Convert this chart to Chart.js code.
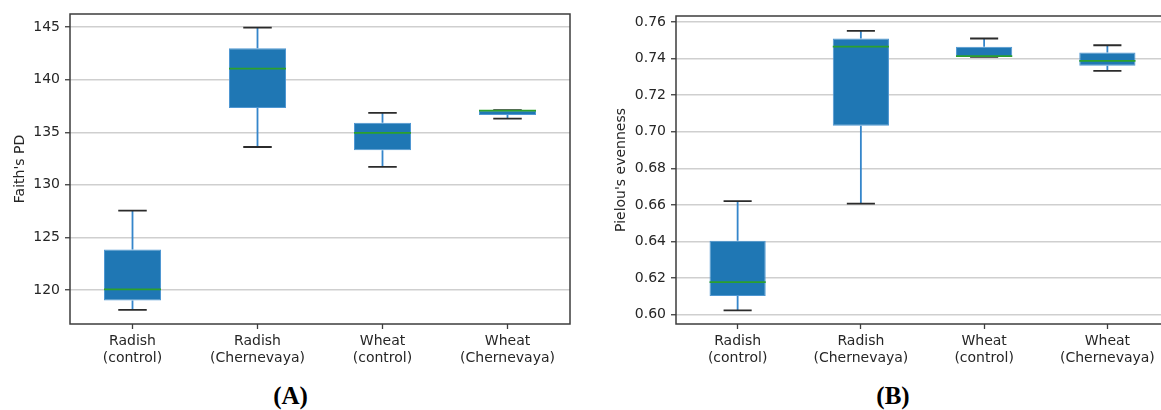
<!DOCTYPE html>
<html>
<head>
<meta charset="utf-8">
<script src="https://cdn.jsdelivr.net/npm/chart.js@4.4.1/dist/chart.umd.min.js"></script>
<style>
  html, body { margin: 0; padding: 0; background: #ffffff; overflow: hidden; }
  #wrap { position: relative; width: 1161px; height: 410px; overflow: hidden; background: #fff; }
  canvas { position: absolute; top: 0; }
  #cA { left: 0; }
  #cB { left: 580px; }
  .panel { position: absolute; font-family: "Liberation Serif", "Times New Roman", serif; font-weight: bold;
           font-size: 25px; color: #000; transform: translate(-50%, -50%); white-space: nowrap; }
</style>
</head>
<body>
<div id="wrap">
  <canvas id="cA" width="580" height="380"></canvas>
  <canvas id="cB" width="600" height="380"></canvas>
  <div class="panel" style="left:290.5px; top:396px;">(<span>A</span>)</div>
  <div class="panel" style="left:893px; top:396px;">(<span>B</span>)</div>
</div>
<script>
// Groups on the x axis (two-line labels)
const categories = [
  ['Radish', '(control)'],
  ['Radish', '(Chernevaya)'],
  ['Wheat', '(control)'],
  ['Wheat', '(Chernevaya)']
];

// Faith's PD: whisker ends, quartiles and medians per group
const faithLow  = [118.1, 133.6, 131.7, 136.3];
const faithQ1   = [119.0, 137.3, 133.3, 136.65];
const faithMed  = [120.05, 141.05, 134.95, 137.05];
const faithQ3   = [123.85, 143.0, 135.9, 137.1];
const faithHigh = [127.55, 144.95, 136.85, 137.1];

// Pielou's evenness: whisker ends, quartiles and medians per group
const pielouLow  = [0.6023, 0.6607, 0.7409, 0.7333];
const pielouQ1   = [0.6102, 0.7033, 0.7409, 0.7361];
const pielouMed  = [0.6178, 0.7466, 0.7414, 0.7388];
const pielouQ3   = [0.6404, 0.7510, 0.7465, 0.7433];
const pielouHigh = [0.6621, 0.7552, 0.7510, 0.7473];

Chart.defaults.font.family = '"DejaVu Sans", sans-serif';
Chart.defaults.font.size = 14;
Chart.defaults.color = '#262626';

const BOX_FILL = '#1f77b4';
const BOX_EDGE = '#4f97d2';
const WHISKER = '#3586cb';
const CAP = '#2b2b2b';
const MEDIAN = '#2ca02c';
const SPINE = '#3d3d3d';
const GRID = '#cfcfcf';

// Whiskers, caps and median lines drawn on top of the floating-bar boxes
const boxParts = {
  id: 'boxParts',
  afterDatasetsDraw(chart, args, opts) {
    const ctx = chart.ctx;
    const y = chart.scales.y;
    const bars = chart.getDatasetMeta(0).data;
    ctx.save();
    bars.forEach((bar, i) => {
      const x = bar.x;
      const half = bar.width / 2;
      const capHalf = half / 2;
      const pLow = y.getPixelForValue(opts.low[i]);
      const pQ1 = y.getPixelForValue(opts.q1[i]);
      const pQ3 = y.getPixelForValue(opts.q3[i]);
      const pHigh = y.getPixelForValue(opts.high[i]);
      const pMed = y.getPixelForValue(opts.med[i]);
      // whiskers
      ctx.strokeStyle = WHISKER;
      ctx.lineWidth = 1.8;
      ctx.beginPath();
      ctx.moveTo(x, pQ1); ctx.lineTo(x, pLow);
      ctx.moveTo(x, pQ3); ctx.lineTo(x, pHigh);
      ctx.stroke();
      // caps
      ctx.strokeStyle = CAP;
      ctx.lineWidth = 1.8;
      ctx.beginPath();
      ctx.moveTo(x - capHalf, pLow); ctx.lineTo(x + capHalf, pLow);
      ctx.moveTo(x - capHalf, pHigh); ctx.lineTo(x + capHalf, pHigh);
      ctx.stroke();
      // median
      ctx.strokeStyle = MEDIAN;
      ctx.lineWidth = 1.8;
      ctx.beginPath();
      ctx.moveTo(x - half, pMed); ctx.lineTo(x + half, pMed);
      ctx.stroke();
    });
    ctx.restore();
  }
};

// Full frame around the plotting area
const frame = {
  id: 'frame',
  afterDraw(chart) {
    const a = chart.chartArea;
    const ctx = chart.ctx;
    ctx.save();
    ctx.strokeStyle = SPINE;
    ctx.lineWidth = 1.5;
    ctx.strokeRect(a.left, a.top, a.right - a.left, a.bottom - a.top);
    ctx.restore();
  }
};

function makeBoxChart(canvasId, cfg) {
  const boxes = cfg.q1.map((v, i) => [v, cfg.q3[i]]);
  return new Chart(document.getElementById(canvasId), {
    type: 'bar',
    data: {
      labels: categories,
      datasets: [{
        data: boxes,
        backgroundColor: BOX_FILL,
        borderColor: BOX_EDGE,
        borderWidth: 1,
        borderSkipped: false,
        barPercentage: 0.456,
        categoryPercentage: 1.0
      }]
    },
    options: {
      responsive: false,
      animation: false,
      devicePixelRatio: 1,
      layout: { padding: { top: cfg.padTop, right: cfg.padRight, left: 0, bottom: 0 } },
      plugins: {
        legend: { display: false },
        tooltip: { enabled: false },
        boxParts: { low: cfg.low, q1: cfg.q1, med: cfg.med, q3: cfg.q3, high: cfg.high }
      },
      scales: {
        x: {
          offset: true,
          grid: { display: true, drawOnChartArea: false, drawTicks: true, offset: false,
                  tickLength: 5, tickColor: SPINE, tickWidth: 1.3 },
          border: { display: false },
          ticks: { padding: 4, maxRotation: 0, autoSkip: false, font: { size: 14, lineHeight: 1.2 } },
          afterFit(s) { s.height = cfg.xHeight; s.paddingLeft = 0; s.paddingRight = 0; }
        },
        y: {
          min: cfg.min,
          max: cfg.max,
          grid: { color: GRID, lineWidth: 1.5, tickLength: 5, tickColor: SPINE, tickWidth: 1.3 },
          border: { display: false },
          ticks: {
            stepSize: cfg.step,
            includeBounds: false,
            padding: 5,
            font: { size: 14 },
            callback: v => Number(v).toFixed(cfg.decimals)
          },
          title: { display: true, text: cfg.title, font: { size: 14 }, padding: { top: cfg.titlePad, bottom: 0 } },
          afterFit(s) { s.width = cfg.yWidth; s.paddingTop = 0; s.paddingBottom = 0; }
        }
      }
    },
    plugins: [boxParts, frame]
  });
}

makeBoxChart('cA', {
  low: faithLow, q1: faithQ1, med: faithMed, q3: faithQ3, high: faithHigh,
  min: 116.76, max: 146.25, step: 5, decimals: 0,
  title: "Faith's PD", titlePad: 12,
  padTop: 14, padRight: 10, yWidth: 70, xHeight: 56
});

makeBoxChart('cB', {
  low: pielouLow, q1: pielouQ1, med: pielouMed, q3: pielouQ3, high: pielouHigh,
  min: 0.5949, max: 0.7633, step: 0.02, decimals: 2,
  title: "Pielou's evenness", titlePad: 33,
  padTop: 16, padRight: 11, yWidth: 96, xHeight: 56
});
</script>
</body>
</html>
